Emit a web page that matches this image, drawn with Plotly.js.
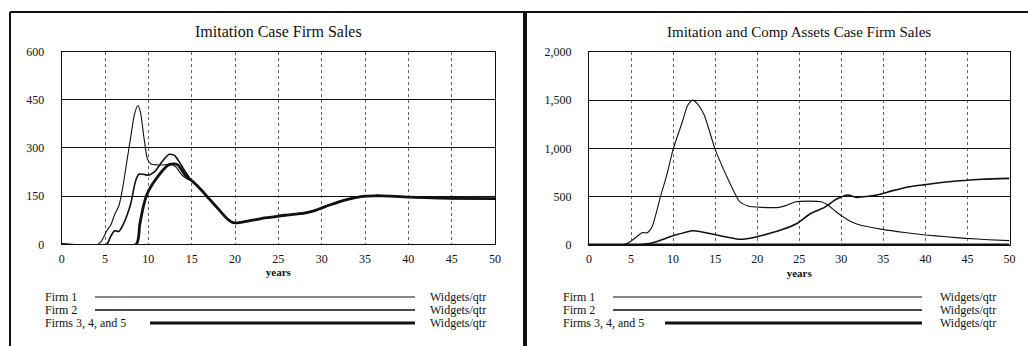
<!DOCTYPE html>
<html>
<head>
<meta charset="utf-8">
<script src="https://cdn.plot.ly/plotly-3.0.1.min.js"></script>
<style>
html,body{margin:0;padding:0;background:#fff;}
#chart{width:1028px;height:346px;}
</style>
</head>
<body>
<div id="chart"></div>
<script>
// ---------- Data ----------
// Left panel: Imitation Case Firm Sales (Widgets/qtr)
var leftFirm1Years  = [0, 4.2, 4.7, 5.2, 5.7, 6.1, 6.6, 7.0, 7.5, 8.0, 8.4, 8.8, 9.1, 9.5, 9.9, 10.3, 11.0, 11.8, 12.5, 13.2, 13.8, 14.4];
var leftFirm1Sales  = [0, 0, 15, 42, 62, 92, 120, 170, 255, 340, 405, 432, 410, 330, 265, 250, 247, 247, 250, 240, 218, 205];
var leftFirm2Years  = [0, 5.2, 5.6, 6.1, 6.6, 7.1, 7.6, 8.0, 8.5, 8.9, 9.4, 10.0, 10.8, 11.6, 12.4, 13.0, 13.6, 14.2, 14.8];
var leftFirm2Sales  = [0, 0, 22, 42, 40, 62, 95, 130, 195, 218, 218, 215, 228, 258, 280, 277, 255, 228, 205];
var leftFirms345Years = [0, 8.6, 9.0, 9.4, 9.8, 10.3, 10.8, 11.5, 12.2, 12.8, 13.4, 14.0, 14.6];
var leftFirms345Sales = [0, 0, 60, 115, 153, 180, 200, 225, 245, 250, 247, 225, 205];
var leftCommonYears = [15, 16, 17, 18, 19, 19.8, 21, 22, 23, 24, 25, 26, 27, 28, 29, 30, 31, 32, 33, 34, 35, 36, 37, 38, 40, 42, 45, 50];
var leftCommonSales = [198, 172, 142, 112, 82, 67, 70, 75, 80, 84, 88, 91, 94, 97, 103, 113, 123, 132, 140, 146, 150, 151, 151, 150, 147, 145, 143, 142];

// Right panel: Imitation and Comp Assets Case Firm Sales (Widgets/qtr)
var rightFirm1Years = [0, 4.0, 4.9, 5.6, 6.3, 6.9, 7.5, 8.5, 9.3, 10.0, 11.1, 11.7, 12.3, 12.9, 13.7, 15.0, 16.3, 17.2, 17.9, 18.9, 20.5, 22.6, 23.5, 24.6, 27.6, 28.4, 29.3, 30.2, 31.2, 32.2, 34.9, 37.5, 40.0, 42.5, 44.8, 47.5, 50];
var rightFirm1Sales = [0, 0, 34, 80, 127, 127, 190, 500, 742, 990, 1276, 1440, 1500, 1460, 1345, 990, 724, 560, 448, 404, 390, 390, 410, 448, 448, 414, 350, 293, 240, 207, 162, 130, 104, 85, 69, 55, 45];
var rightFirm2Years = [0, 5.5, 7.6, 10.0, 12.4, 15.2, 18.0, 20.0, 21.5, 23.0, 24.6, 26.4, 28.0, 29.4, 30.8, 31.8, 34.2, 36.0, 38.1, 40.0, 42.8, 46.8, 50];
var rightFirm2Sales = [0, 0, 24, 96, 148, 103, 59, 86, 121, 160, 217, 328, 390, 473, 517, 493, 517, 560, 603, 625, 655, 680, 690];
var rightFirms345Years = [0, 50];
var rightFirms345Sales = [0, 0];

// Axis ticks and labels
var xTicks = [0, 5, 10, 15, 20, 25, 30, 35, 40, 45, 50];
var leftYTicks = [0, 150, 300, 450, 600];
var rightYTicks = [0, 500, 1000, 1500, 2000];
var seriesNames = ["Firm 1", "Firm 2", "Firms 3, 4, and 5"];
var unitLabel = "Widgets/qtr";
var leftTitle = "Imitation Case Firm Sales";
var rightTitle = "Imitation and Comp Assets Case Firm Sales";
var xTitle = "years";

// ---------- Build ----------
var W = 1028, H = 346;
function px(x) { return x / W; }
function py(y) { return (H - y) / H; }

var SERIF = "Liberation Serif, Times New Roman, serif";
var INK = "#111";
var widths = [1.1, 1.6, 2.8];

function line(xs, ys, w, xa, ya) {
  return {x: xs, y: ys, type: "scatter", mode: "lines", xaxis: xa, yaxis: ya,
          line: {color: INK, width: w, shape: "spline", smoothing: 0.6},
          showlegend: false, hoverinfo: "skip"};
}

var data = [
  line(leftFirm1Years.concat(leftCommonYears), leftFirm1Sales.concat(leftCommonSales), widths[0], "x", "y"),
  line(leftFirm2Years.concat(leftCommonYears), leftFirm2Sales.concat(leftCommonSales), widths[1], "x", "y"),
  line(leftFirms345Years.concat(leftCommonYears), leftFirms345Sales.concat(leftCommonSales), widths[2], "x", "y"),
  line(rightFirm1Years, rightFirm1Sales, widths[0], "x2", "y2"),
  line(rightFirm2Years, rightFirm2Sales, widths[1], "x2", "y2"),
  line(rightFirms345Years, rightFirms345Sales, widths[2], "x2", "y2")
];

function xAxis(domain, anchor) {
  return {domain: domain, anchor: anchor, range: [0, 50], tickvals: xTicks,
          showgrid: true, gridcolor: "#666", griddash: "dot", gridwidth: 1,
          showline: true, linecolor: INK, linewidth: 1, mirror: true,
          zeroline: false, ticks: "", ticklabelstandoff: 3,
          tickfont: {family: SERIF, size: 12, color: INK},
          title: {text: "<b>" + xTitle + "</b>", font: {family: SERIF, size: 11, color: INK}, standoff: 3}};
}
function yAxis(domain, anchor, range, ticks, fmt) {
  return {domain: domain, anchor: anchor, range: range, tickvals: ticks, tickformat: fmt,
          showgrid: true, gridcolor: INK, gridwidth: 1,
          showline: true, linecolor: INK, linewidth: 1, mirror: true,
          zeroline: false, ticks: "", ticklabelstandoff: 14,
          tickfont: {family: SERIF, size: 12, color: INK}};
}

var layout = {
  width: W, height: H,
  margin: {l: 0, r: 0, t: 0, b: 0},
  paper_bgcolor: "#fff", plot_bgcolor: "#fff",
  showlegend: false,
  xaxis: xAxis([px(61.7), px(495)], "y"),
  yaxis: yAxis([py(244.3), py(51.5)], "x", [0, 600], leftYTicks, "d"),
  xaxis2: xAxis([px(589), px(1009.5)], "y2"),
  yaxis2: yAxis([py(245), py(51.8)], "x2", [0, 2000], rightYTicks, ",d"),
  annotations: [],
  shapes: []
};

// titles
layout.annotations.push({xref: "paper", yref: "paper", x: px(278), y: py(31), text: leftTitle,
  showarrow: false, xanchor: "center", yanchor: "middle", font: {family: SERIF, size: 16, color: INK}});
layout.annotations.push({xref: "paper", yref: "paper", x: px(799), y: py(32), text: rightTitle,
  showarrow: false, xanchor: "center", yanchor: "middle", font: {family: SERIF, size: 15, color: INK}});

// legend blocks
var legendRows = [297, 310, 323];
var panels = [
  {nameX: 43, lineStart: [95, 95, 150], lineEnd: 415, unitX: 428},
  {nameX: 561, lineStart: [613, 613, 665], lineEnd: 922, unitX: 938}
];
panels.forEach(function (p) {
  seriesNames.forEach(function (name, i) {
    var yy = legendRows[i];
    layout.annotations.push({xref: "paper", yref: "paper", x: px(p.nameX), y: py(yy), text: name,
      showarrow: false, xanchor: "left", yanchor: "middle", font: {family: SERIF, size: 12, color: INK}});
    layout.annotations.push({xref: "paper", yref: "paper", x: px(p.unitX), y: py(yy), text: unitLabel,
      showarrow: false, xanchor: "left", yanchor: "middle", font: {family: SERIF, size: 12, color: INK}});
    layout.shapes.push({type: "line", xref: "paper", yref: "paper",
      x0: px(p.lineStart[i]), x1: px(p.lineEnd), y0: py(yy), y1: py(yy),
      line: {color: INK, width: widths[i]}});
  });
});

// panel frame
layout.shapes.push({type: "line", xref: "paper", yref: "paper", x0: px(10), x1: px(10), y0: py(12), y1: py(346), line: {color: INK, width: 2}});
layout.shapes.push({type: "line", xref: "paper", yref: "paper", x0: px(10), x1: px(1028), y0: py(12), y1: py(12), line: {color: INK, width: 2}});
layout.shapes.push({type: "line", xref: "paper", yref: "paper", x0: px(525), x1: px(525), y0: py(12), y1: py(346), line: {color: INK, width: 4}});

Plotly.newPlot("chart", data, layout, {staticPlot: true, displayModeBar: false});
</script>
</body>
</html>
